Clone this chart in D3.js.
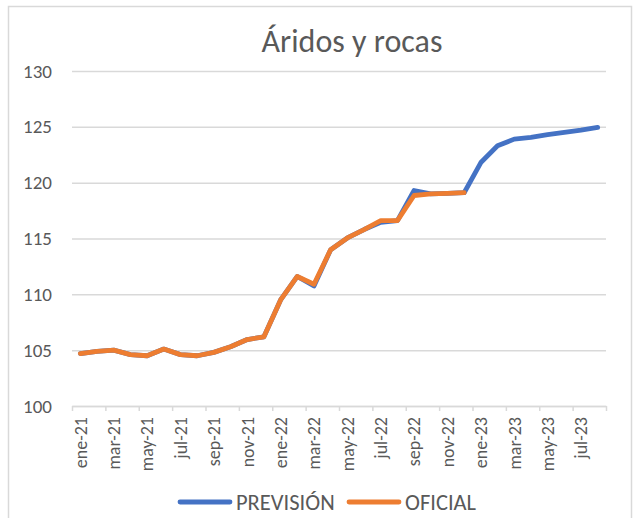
<!DOCTYPE html>
<html>
<head>
<meta charset="utf-8">
<script src="https://cdn.jsdelivr.net/npm/d3@7"></script>
<style>
  body { margin: 0; background: #fff; }
  text { font-family: Carlito, Calibri, Lato, sans-serif; fill: #595959; }
</style>
</head>
<body>
<div id="chart"></div>
<script>
// months, ene-21 .. ago-23
var months = ["ene-21","feb-21","mar-21","abr-21","may-21","jun-21","jul-21","ago-21","sep-21","oct-21","nov-21","dic-21",
  "ene-22","feb-22","mar-22","abr-22","may-22","jun-22","jul-22","ago-22","sep-22","oct-22","nov-22","dic-22",
  "ene-23","feb-23","mar-23","abr-23","may-23","jun-23","jul-23","ago-23"];

var prevision = [104.7,104.9,105.0,104.6,104.5,105.1,104.6,104.5,104.8,105.3,105.95,106.2,
  109.5,111.6,110.75,114.0,115.05,115.8,116.45,116.6,119.3,119.0,119.05,119.1,
  121.8,123.3,123.9,124.05,124.3,124.5,124.7,124.95];

var oficial = [104.7,104.9,105.0,104.6,104.5,105.1,104.6,104.5,104.8,105.3,105.95,106.2,
  109.5,111.6,110.9,114.0,115.05,115.8,116.6,116.6,118.85,119.0,119.05,119.1];

var yTicks = [100,105,110,115,120,125,130];

var svgWidth = 635;
var svgHeight = 518;
var margin = {top: 71, right: 29, bottom: 112, left: 72};
var width = svgWidth - margin.left - margin.right;
var height = svgHeight - margin.top - margin.bottom;

var svg = d3.select("#chart").append("svg")
  .attr("width", svgWidth)
  .attr("height", svgHeight);

// chart border
svg.append("rect")
  .attr("x", 8.5).attr("y", 6.5)
  .attr("width", 623).attr("height", 520)
  .attr("fill", "none")
  .attr("stroke", "#d9d9d9")
  .attr("stroke-width", 1.5);

var chartGroup = svg.append("g")
  .attr("transform", `translate(${margin.left}, ${margin.top})`);

var x = d3.scaleBand().domain(months).range([0, width]).padding(0);
var xEdge = d3.scaleLinear().domain([0, months.length]).range([0, width]);
var y = d3.scaleLinear().domain([100, 130]).range([height, 0]);

// gridlines + y labels
var yAxis = chartGroup.append("g")
  .call(d3.axisLeft(y).tickValues(yTicks).tickSize(-width).tickPadding(20));
yAxis.select(".domain").remove();
yAxis.selectAll("line").attr("stroke", "#d9d9d9").attr("stroke-width", 1.5);
yAxis.selectAll("text").attr("font-size", "19px").attr("fill", "#595959");

// x axis line and tick marks between categories
var xAxis = chartGroup.append("g")
  .attr("transform", `translate(0, ${height})`)
  .call(d3.axisBottom(xEdge).tickValues(d3.range(0, months.length + 1, 2)).tickSize(5).tickSizeOuter(0).tickFormat(""));
xAxis.selectAll("line, path").attr("stroke", "#d9d9d9").attr("stroke-width", 1.5);

// x labels
var xLabels = chartGroup.append("g")
  .attr("transform", `translate(0, ${height})`)
  .call(d3.axisBottom(x).tickValues(months.filter((d, i) => i % 2 === 0)).tickSize(0));
xLabels.select(".domain").remove();
xLabels.selectAll("text")
  .attr("font-size", "18px")
  .attr("fill", "#595959")
  .attr("text-anchor", "end")
  .attr("transform", "rotate(-90)")
  .attr("x", -11)
  .attr("y", 0)
  .attr("dy", "0.35em");

var line = d3.line()
  .x((d, i) => x(months[i]) + x.bandwidth() / 2)
  .y(d => y(d));

chartGroup.append("path")
  .datum(prevision)
  .attr("fill", "none")
  .attr("stroke", "#4472C4")
  .attr("stroke-width", 4.8)
  .attr("stroke-linejoin", "round")
  .attr("stroke-linecap", "round")
  .attr("d", line);

chartGroup.append("path")
  .datum(oficial)
  .attr("fill", "none")
  .attr("stroke", "#ED7D31")
  .attr("stroke-width", 4.8)
  .attr("stroke-linejoin", "round")
  .attr("stroke-linecap", "round")
  .attr("d", line);

// title
svg.append("text")
  .attr("x", 352)
  .attr("y", 52)
  .attr("text-anchor", "middle")
  .attr("font-size", "32px")
  .text("Áridos y rocas");

// legend
var legend = [
  {name: "PREVISIÓN", color: "#4472C4", x: 178},
  {name: "OFICIAL", color: "#ED7D31", x: 347}
];
var legendGroup = svg.append("g");
legend.forEach(function(l) {
  legendGroup.append("line")
    .attr("x1", l.x + 2).attr("x2", l.x + 52)
    .attr("y1", 502).attr("y2", 502)
    .attr("stroke", l.color)
    .attr("stroke-width", 4.8)
    .attr("stroke-linecap", "round");
  legendGroup.append("text")
    .attr("x", l.x + 58)
    .attr("y", 502)
    .attr("dy", "0.35em")
    .attr("font-size", "22.5px")
    .text(l.name);
});
</script>
</body>
</html>
